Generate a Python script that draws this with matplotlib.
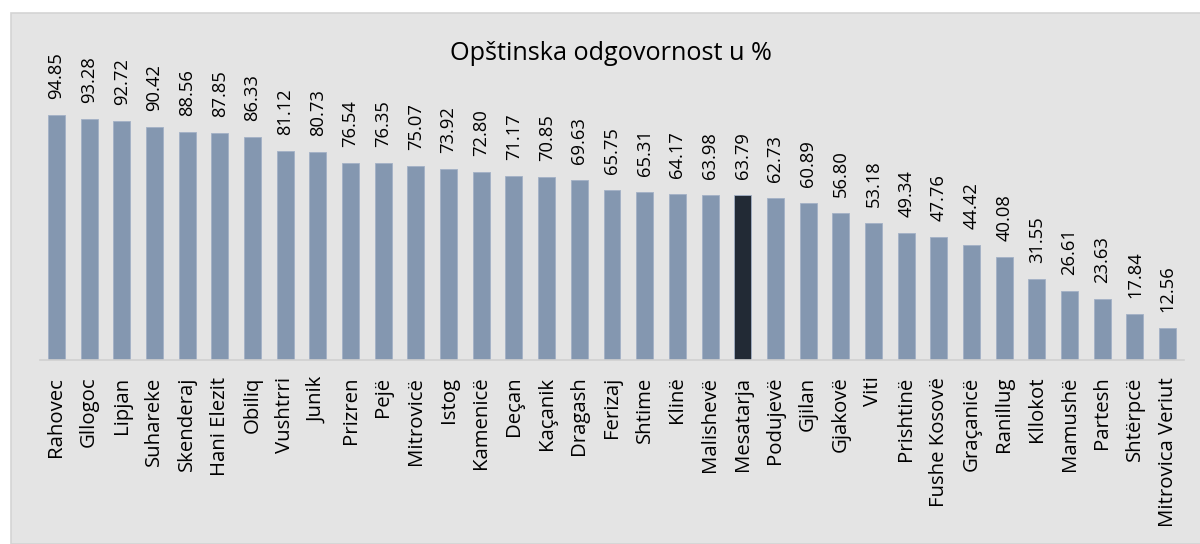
import matplotlib
matplotlib.use("Agg")
import matplotlib.pyplot as plt
from matplotlib.patches import Rectangle

municipalities = ["Rahovec", "Gllogoc", "Lipjan", "Suhareke", "Skenderaj", "Hani Elezit",
                  "Obiliq", "Vushtrri", "Junik", "Prizren", "Pejë", "Mitrovicë", "Istog",
                  "Kamenicë", "Deçan", "Kaçanik", "Dragash", "Ferizaj", "Shtime", "Klinë",
                  "Malishevë", "Mesatarja", "Podujevë", "Gjilan", "Gjakovë", "Viti",
                  "Prishtinë", "Fushe Kosovë", "Graçanicë", "Ranillug", "Kllokot",
                  "Mamushë", "Partesh", "Shtërpcë", "Mitrovica Veriut"]
values = [94.85, 93.28, 92.72, 90.42, 88.56, 87.85, 86.33, 81.12, 80.73, 76.54,
          76.35, 75.07, 73.92, 72.80, 71.17, 70.85, 69.63, 65.75, 65.31, 64.17,
          63.98, 63.79, 62.73, 60.89, 56.80, 53.18, 49.34, 47.76, 44.42, 40.08,
          31.55, 26.61, 23.63, 17.84, 12.56]
highlight = "Mesatarja"
title = "Opštinska odgovornost u %"

FONT = ["Open Sans", "DejaVu Sans"]
plt.rcParams['font.family'] = FONT

W, H = 1200, 544
fig = plt.figure(figsize=(W / 100, H / 100), dpi=100, facecolor="white")

# grey chart panel
fig.patches.append(Rectangle((11 / W, 0), 1.0, 1 - 12.5 / H, transform=fig.transFigure,
                             facecolor="#e4e4e4", edgecolor="#d4d4d4", linewidth=1.2,
                             zorder=-5))

ax = fig.add_axes([40 / W, 1 - 360 / H, (1184 - 40) / W, (360 - 102) / H])
ax.set_zorder(2)
ax.set_facecolor("none")

colors = ["#222a35" if m == highlight else "#8497b0" for m in municipalities]
x = list(range(len(municipalities)))
ax.bar(x, values, width=0.52, color=colors, edgecolor="#a3b1c6", linewidth=0.6, zorder=2)

ax.set_xlim(-0.5, len(municipalities) - 0.5)
ax.set_ylim(0, 100)
for s in ["top", "right", "left"]:
    ax.spines[s].set_visible(False)
ax.spines["bottom"].set_color("#d0d0d0")
ax.spines["bottom"].set_linewidth(1.2)
ax.set_yticks([])
ax.set_xticks(x)
ax.set_xticklabels(municipalities, rotation=90, fontsize=14.7, color="black")
ax.tick_params(axis="x", length=0, pad=12)

for xi, v in zip(x, values):
    ax.annotate(f"{v:.2f}", (xi, v), xytext=(0, 16), textcoords="offset pixels",
                rotation=90, ha="center", va="bottom", fontsize=13.2, color="black")

fig.text(611 / W, 1 - 53 / H, title, ha="center", va="center", fontsize=18.2, color="black")

fig.savefig("out.png", dpi=100, facecolor="white")
